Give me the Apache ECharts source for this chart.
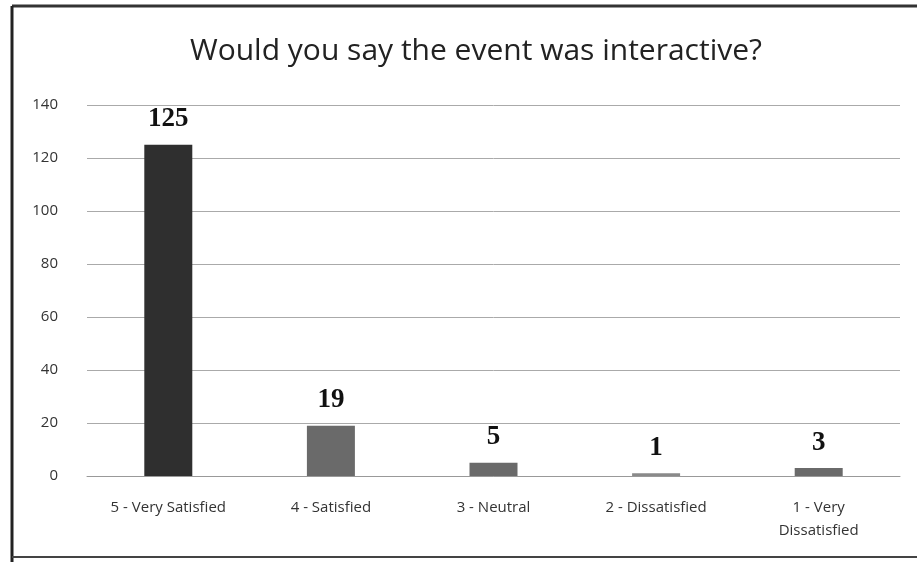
<!DOCTYPE html>
<html>
<head>
  <meta charset="utf-8">
  <title>Would you say the event was interactive?</title>
  <script src="https://cdn.jsdelivr.net/npm/echarts@6/dist/echarts.min.js"></script>
  <style>
    html, body { margin: 0; padding: 0; background: #fff; }
    #chart { width: 917px; height: 562px; }
  </style>
</head>
<body>
  <div id="chart"></div>
  <script>
    // data
    var categories = ['5 - Very Satisfied', '4 - Satisfied', '3 - Neutral', '2 - Dissatisfied', '1 - Very\nDissatisfied'];
    var counts = [125, 19, 5, 1, 3];
    var barColors = ['#2f2f2f', '#6a6a6a', '#6a6a6a', '#8a8a8a', '#6a6a6a'];
    var yTicks = [0, 20, 40, 60, 80, 100, 120, 140];

    var chart = echarts.init(document.getElementById('chart'));
    chart.setOption({
      backgroundColor: '#ffffff',
      animation: false,
      title: {
        text: 'Would you say the event was interactive?',
        left: 471,
        top: 31,
        textAlign: 'center',
        textStyle: { fontFamily: 'Open Sans', fontWeight: 'normal', fontSize: 30, color: '#222' }
      },
      graphic: [
        // scanned frame round the chart
        { type: 'line', shape: { x1: 12, y1: 6, x2: 917, y2: 6 }, style: { stroke: '#333', lineWidth: 3 } },
        { type: 'line', shape: { x1: 12, y1: 6, x2: 12, y2: 562 }, style: { stroke: '#222', lineWidth: 3 } },
        { type: 'line', shape: { x1: 12, y1: 557, x2: 917, y2: 557 }, style: { stroke: '#444', lineWidth: 2 } }
      ],
      grid: { left: 87, right: 17, top: 105, bottom: 86, containLabel: false },
      xAxis: {
        type: 'category',
        data: categories,
        axisLine: { show: true, lineStyle: { color: '#999', width: 1 } },
        axisTick: { show: false },
        axisLabel: { color: '#333', fontFamily: 'Open Sans', fontSize: 15, margin: 20, lineHeight: 23, interval: 0 }
      },
      yAxis: {
        type: 'value',
        min: yTicks[0],
        max: yTicks[yTicks.length - 1],
        interval: 20,
        axisLine: { show: false },
        axisTick: { show: false },
        axisLabel: { color: '#333', fontFamily: 'Open Sans', fontSize: 15, margin: 29 },
        splitLine: { lineStyle: { color: '#aaa', width: 1 } }
      },
      series: [{
        type: 'bar',
        barWidth: 48,
        data: counts.map(function (v, i) {
          return { value: v, itemStyle: { color: barColors[i] } };
        }),
        label: {
          show: true,
          position: 'top',
          distance: 12,
          color: '#111',
          fontFamily: 'Liberation Serif',
          fontWeight: 'bold',
          fontSize: 27
        }
      }]
    });
  </script>
</body>
</html>
